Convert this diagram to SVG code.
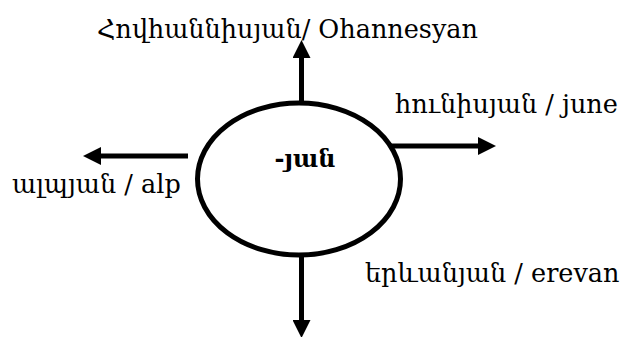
<svg xmlns="http://www.w3.org/2000/svg" width="621" height="337" viewBox="0 0 621 337">
<defs>
<style>
.lbl{font-family:"DejaVu Serif","Liberation Serif",serif;font-size:25.5px;fill:#000}
.ctr{font-family:"DejaVu Serif","Liberation Serif",serif;font-size:24px;font-weight:bold;fill:#000}
.conn{stroke:#000;stroke-width:5;fill:none}
</style>
<marker id="ah" markerUnits="userSpaceOnUse" markerWidth="18" markerHeight="18" refX="0" refY="9" orient="auto" viewBox="0 0 18 18">
<path d="M0,0 L18,9 L0,18 Z" fill="#000"/>
</marker>
</defs>
<rect width="621" height="337" fill="#fff"/>
<g id="connectors">
<line class="conn" x1="301.5" y1="101" x2="301.5" y2="58" marker-end="url(#ah)"/>
<line class="conn" x1="301.5" y1="256" x2="301.5" y2="320" marker-end="url(#ah)"/>
<line class="conn" x1="188" y1="156" x2="101" y2="156" marker-end="url(#ah)"/>
<line class="conn" x1="390" y1="146" x2="478" y2="146" marker-end="url(#ah)"/>
</g>
<g id="center">
<ellipse cx="299" cy="179" rx="101.5" ry="76" fill="none" stroke="#000" stroke-width="5"/>
<text class="ctr" x="305" y="167" text-anchor="middle">-յան</text>
</g>
<g id="top">
<text class="lbl" x="97" y="38">Հովհաննիսյան/ Ohannesyan</text>
</g>
<g id="right">
<text class="lbl" x="395" y="113">հունիսյան / june</text>
</g>
<g id="left">
<text class="lbl" x="12" y="193">ալպյան / alp</text>
</g>
<g id="bottom">
<text class="lbl" x="365" y="282">երևանյան / erevan</text>
</g>
</svg>
